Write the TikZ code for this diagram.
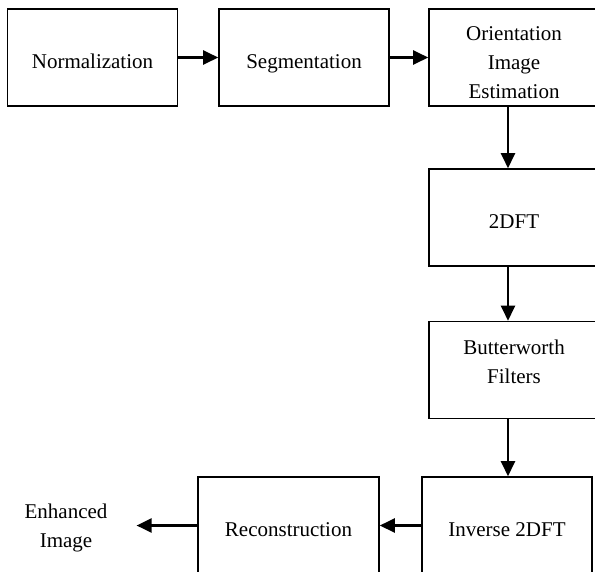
\documentclass[tikz,border=0pt]{standalone}
\usepackage{fontspec}
\setmainfont{Liberation Serif}
\usetikzlibrary{arrows.meta}

\begin{document}
\begin{tikzpicture}[x=1pt,y=-1pt,
  font=\fontsize{21}{29}\selectfont,
  blk/.style={draw,line width=1.6pt,minimum width=170pt,minimum height=97pt,
    inner sep=0pt,align=center},
  lone/.style={blk,text height=30pt,text depth=9pt},
  flow/.style={line width=2.4pt,-{Triangle[length=15pt,width=14pt]}}]
  \useasboundingbox (0,0) rectangle (595,571);
  \clip (0,0) rectangle (595,571);
  \node[lone] (norm) at (92.5,57.5) {Normalization};
  \node[lone] (seg) at (304,57.5) {Segmentation};
  \node[blk] (orient) at (514,57.5) {\mbox{}\\[-5pt]Orientation\\Image\\Estimation};
  \node[lone] (dft) at (514,217.5) {2DFT};
  \node[blk] (bw) at (514,370) {Butterworth\\Filters\\[-12pt]\mbox{}};
  \node[lone] (inv) at (507,525.5) {Inverse 2DFT};
  \node[lone,minimum width=181pt] (rec) at (288.5,525.5) {Reconstruction};
  \node[align=center,inner sep=0pt] (out) at (66,528) {Enhanced\\Image};
  \draw[flow] (norm) -- (seg);
  \draw[flow] (seg) -- (orient);
  \draw[flow] ([xshift=-6pt]orient.south) -- ([xshift=-6pt]dft.north);
  \draw[flow] ([xshift=-6pt]dft.south) -- ([xshift=-6pt]bw.north);
  \draw[flow] ([xshift=-6pt]bw.south) -- ([xshift=1pt]inv.north);
  \draw[flow] (inv) -- (rec);
  \draw[flow] (rec.west) -- ([xshift=29pt]out.east |- rec.west);
\end{tikzpicture}
\end{document}
